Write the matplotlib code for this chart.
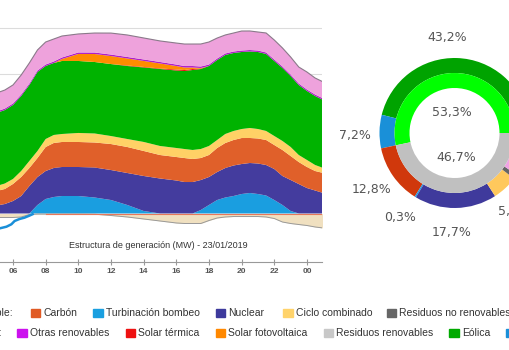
import matplotlib.pyplot as plt
from matplotlib.patches import Rectangle

plt.rcParams['font.family'] = ['Liberation Sans', 'DejaVu Sans']

# datos (MW)
horas = [5.0, 5.5, 6, 6.5, 7, 7.5, 8, 8.5, 9, 10, 11, 12, 13, 14, 15, 16, 16.5, 17,
         17.5, 18, 18.5, 19, 19.5, 20, 20.5, 21, 21.5, 22, 22.5, 23, 23.5, 24, 24.5, 25]
hidraulica = [0, 0, 0, 0, 0, 1830, 3120, 3550, 3760, 3760, 3440, 2900, 1830, 540, 0, 0, 0, 0,
              750, 1830, 2900, 3440, 3760, 4190, 4410, 4190, 3870, 2900, 1830, 540, 0, 0, 0, 0]
nuclear = [1720, 2040, 2690, 3760, 5910, 6020, 6020, 6240, 6240, 6240, 6450, 6450, 6880, 7530, 7530, 7100, 6770, 6770,
           6450, 6020, 6020, 6340, 6560, 6450, 6450, 6560, 6560, 6670, 6240, 6670, 6340, 5480, 4950, 4410]
carbon = [3120, 3230, 3660, 4090, 3870, 4090, 5160, 5380, 5380, 5380, 5380, 5590, 5590, 5380, 5050, 5050, 5160, 4950,
          4730, 4730, 5160, 5380, 5480, 5590, 5380, 5380, 5380, 5160, 5590, 5160, 4730, 4520, 4190, 4300]
ciclo = [1080, 1180, 1080, 1290, 1510, 1510, 1720, 1720, 1720, 1940, 1940, 1720, 1720, 1940, 1940, 1940, 1940, 1940,
         1940, 1940, 1720, 1940, 1940, 1940, 2150, 2040, 1940, 1940, 1940, 1940, 1510, 1510, 1290, 1080]
eolica = [15700, 15800, 15910, 16130, 16340, 16990, 15700, 15480, 15700, 15480, 15370, 15480, 15700, 16020, 16560,
          16660, 16770, 17200, 17200, 17200, 17200, 16990, 16770, 16560, 16450, 16560, 16560, 16130, 15700, 15270,
          15050, 14840, 14840, 14620]
solar_term = [0, 0, 0, 0, 0, 0, 0, 0, 0, 0, 0, 0, 110, 110, 110, 215, 215, 215,
              110, 0, 0, 0, 0, 0, 0, 0, 0, 0, 0, 0, 0, 0, 0, 0]
solar_fv = [0, 0, 0, 0, 0, 0, 0, 0, 430, 1510, 1720, 1720, 1510, 1290, 1080, 750, 540, 320,
            110, 0, 0, 0, 0, 0, 0, 0, 0, 0, 0, 0, 0, 0, 0, 0]
otras_ren = [320, 320, 320, 320, 320, 320, 320, 320, 320, 320, 320, 320, 320, 320, 320, 320, 320, 320,
             320, 320, 320, 320, 320, 320, 320, 320, 320, 320, 320, 320, 320, 320, 320, 320]
cogeneracion = [3980, 3980, 3980, 4190, 4410, 4410, 4840, 4840, 4620, 3980, 4190, 4620, 4730, 4620, 4520, 4620, 4730,
                4730, 4840, 4840, 4410, 3980, 3980, 4190, 4090, 3980, 4190, 4190, 3980, 3760, 3550, 3760, 3550, 3550]
consumo_bombeo = [860, 860, 860, 750, 220, 110, 110, 110, 110, 110, 150, 430, 750, 1180, 1610, 2040, 2150, 2150,
                  2150, 1510, 970, 750, 650, 650, 650, 650, 750, 1080, 1830, 2150, 2370, 2580, 2900, 3120]
horas_saldo = [5.0, 5.2, 5.6, 5.9, 6.1, 6.4, 6.7, 7.0, 7.2]
saldo = [-3400, -3180, -2840, -2320, -1610, -1180, -900, -470, -150]

tick_horas = [6, 8, 10, 12, 14, 16, 18, 20, 22, 24]
tick_labels = ['06', '08', '10', '12', '14', '16', '18', '20', '22', '00']

# anillo exterior (desde 0 grados, sentido antihorario)
tec_anillo = [0.5, 0.2, 0.9, 1.3, 43.2, 7.2, 12.8, 0.3, 17.7, 5.5, 1.0, 9.4]
col_anillo = ['#c0c0c0', '#ff0000', '#ff8c00', '#cc00ff', '#00a300', '#1a90d8',
              '#d0380c', '#1e9ee6', '#3f3a9c', '#ffc85c', '#666666', '#f0a2e4']
ren_vs_no = [53.3, 46.7]

leyenda_1 = [('Carbón', '#e05a24', 30.7), ('Turbinación bombeo', '#1a9fe0', 93.3),
             ('Nuclear', '#3d3a9c', 216), ('Ciclo combinado', '#ffd36b', 283.3),
             ('Residuos no renovables', '#666666', 386.7)]
leyenda_2 = [('Otras renovables', '#cc11ee', 17.3), ('Solar térmica', '#ee1111', 125.7),
             ('Solar fotovoltaica', '#ff8800', 216), ('Residuos renovables', '#c8c8c8', 324),
             ('Eólica', '#00aa00', 449.3), ('Hidráulica', '#1a8fd8', 506)]

W, H = 510, 350
fig = plt.figure(figsize=(5.1, 3.5), dpi=100)

# --- grafico de areas ---
px_mw = 10000 / 46.5
y0 = 213.5
ax = fig.add_axes([0, 1 - 262 / H, 322 / W, 262 / H])
ax.set_xlim(5.204, 5.204 + 322 / 16.33)
ax.set_ylim(-(262 - y0) * px_mw, y0 * px_mw)

capas = [hidraulica, nuclear, carbon, ciclo, eolica, solar_term, solar_fv, otras_ren, cogeneracion]
colores = ['#1a9ee0', '#443c9e', '#e0602a', '#ffd166', '#00b300', '#e81010', '#ff8c00', '#b01ec8', '#eea2dc']
ax.stackplot(horas, *capas, colors=colores, linewidth=0, zorder=2)
total = [sum(v) for v in zip(*capas)]
ax.plot(horas, total, color='#8a7a8a', lw=0.8, zorder=3)

neg = [-v for v in consumo_bombeo]
ax.fill_between(horas, 0, neg, color='#f0e0c0', lw=0, zorder=2)
ax.plot(horas, neg, color='#999999', lw=0.7, zorder=3)
ax.plot([8, 25], [0, 0], color='#e8785a', lw=0.8, zorder=3)
ax.plot(horas_saldo, saldo, color='#1a8fd8', lw=1.8, zorder=3)

ax.set_yticks([0, 10000, 20000, 30000, 40000])
ax.yaxis.grid(True, color='#dcdcdc', lw=0.8)
ax.set_axisbelow(True)
ax.tick_params(axis='y', length=0, labelleft=False)
ax.set_xticks(tick_horas)
ax.set_xticklabels(tick_labels, fontsize=6, fontweight='bold', color='#555555')
ax.tick_params(axis='x', direction='inout', length=5, color='#999999', pad=2)
for s in ['left', 'right', 'top']:
    ax.spines[s].set_visible(False)
ax.spines['bottom'].set_color('#999999')
ax.spines['bottom'].set_linewidth(0.8)

fig.text(158 / W, 1 - 245 / H, 'Estructura de generación (MW) - 23/01/2019',
         fontsize=6.5, color='#333333', ha='center', va='center')

# --- donut ---
cx, cy, r = 454.5, 133, 75
ax2 = fig.add_axes([(cx - 80) / W, 1 - (cy + 80) / H, 160 / W, 160 / H])
ax2.pie(tec_anillo, colors=col_anillo, startangle=0, counterclock=True, radius=1,
        wedgeprops=dict(width=0.2, edgecolor='none'))
ax2.pie(ren_vs_no, colors=['#00ff00', '#c0c0c0'], startangle=0, counterclock=True, radius=0.8,
        wedgeprops=dict(width=0.2, edgecolor='none'))
ax2.set_xlim(-80 / r, 80 / r)
ax2.set_ylim(-80 / r, 80 / r)
ax2.set_aspect('equal')
ax2.axis('off')

etiquetas = [('43,2%', 447, 37, 'center'), ('53,3%', 452, 112.5, 'center'), ('46,7%', 456, 157, 'center'),
             ('7,2%', 355, 135, 'center'), ('12,8%', 372, 189.5, 'center'), ('0,3%', 400, 217.5, 'center'),
             ('17,7%', 452, 232.5, 'center'), ('5,5%', 498, 211, 'left')]
for txt, x, y, ha in etiquetas:
    fig.text(x / W, 1 - y / H, txt, fontsize=9, color='#555555', ha=ha, va='center', family='DejaVu Sans')

# --- leyenda ---
def fila(items, yc, titulo, xt):
    fig.text(xt / W, 1 - yc / H, titulo, fontsize=7.5, color='#333333', ha='right', va='center')
    for nombre, col, x in items:
        fig.patches.append(Rectangle((x / W, 1 - (yc + 4) / H), 9.5 / W, 8 / H,
                                     transform=fig.transFigure, color=col, figure=fig))
        fig.text((x + 12.5) / W, 1 - yc / H, nombre, fontsize=7.5, color='#333333', ha='left', va='center')

fila(leyenda_1, 312.7, 'No renovable:', 13)
fila(leyenda_2, 333, 'Renovable:', 2)

fig.savefig('out.png', dpi=100)
